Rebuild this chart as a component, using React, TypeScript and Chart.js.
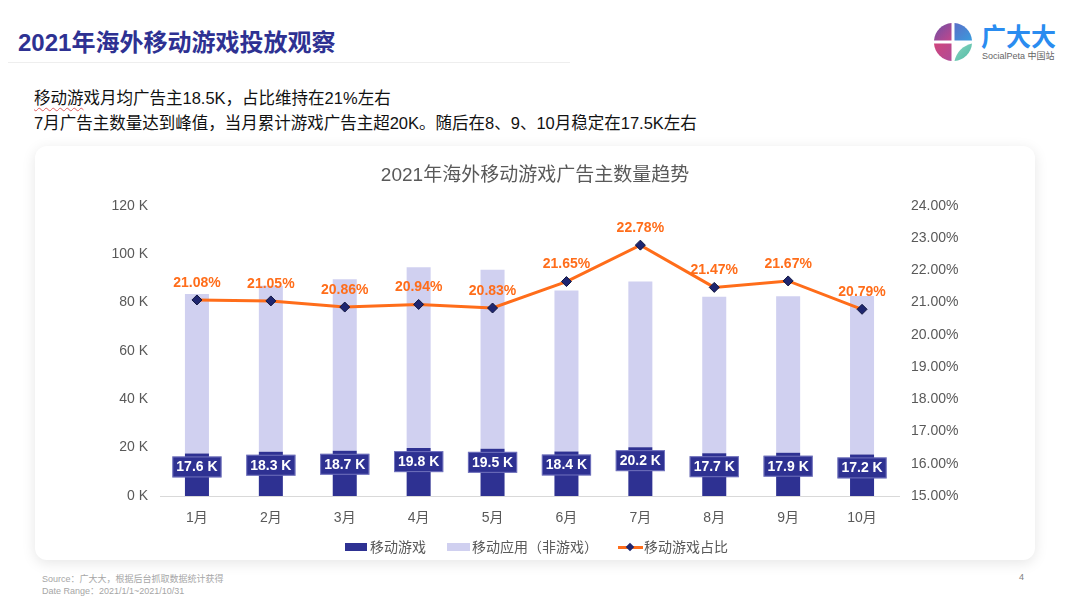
import React, { useEffect, useRef } from "react";
import { Chart, registerables } from "chart.js";

Chart.register(...registerables);

const months = ["1月", "2月", "3月", "4月", "5月", "6月", "7月", "8月", "9月", "10月"];
const gameAdvertisers = [17.6, 18.3, 18.7, 19.8, 19.5, 18.4, 20.2, 17.7, 17.9, 17.2];
const nonGameAdvertisers = [65.9, 68.6, 70.9, 74.8, 74.1, 66.6, 68.5, 64.7, 64.7, 65.5];
const gameShare = [21.08, 21.05, 20.86, 20.94, 20.83, 21.65, 22.78, 21.47, 21.67, 20.79];
const leftTicks = [0, 20, 40, 60, 80, 100, 120];
const rightTicks = [15, 16, 17, 18, 19, 20, 21, 22, 23, 24];

const FONT = "'Liberation Sans', 'Noto Sans CJK SC', Arial, sans-serif";
const DARK = "#2E3192";
const LIGHT = "#D0D0F0";
const ORANGE = "#FF6D1A";
const GRAY = "#595959";

const labelPlugin = {
  id: "customLabels",
  afterDatasetsDraw(chart: any) {
    const ctx = chart.ctx;
    ctx.save();
    const barMeta = chart.getDatasetMeta(0);
    ctx.font = `bold 14px ${FONT}`;
    ctx.textAlign = "center";
    ctx.textBaseline = "middle";
    barMeta.data.forEach((bar: any, i: number) => {
      const text = gameAdvertisers[i].toFixed(1) + " K";
      const w = ctx.measureText(text).width + 8;
      const h = 21;
      const x = bar.x - w / 2;
      const y = bar.y + 3;
      ctx.fillStyle = DARK;
      ctx.fillRect(x, y, w, h);
      ctx.strokeStyle = "rgba(170,170,225,0.55)";
      ctx.lineWidth = 1;
      ctx.strokeRect(x + 0.5, y + 0.5, w - 1, h - 1);
      ctx.fillStyle = "#FFFFFF";
      ctx.fillText(text, bar.x, y + h / 2 + 0.5);
    });
    const lineMeta = chart.getDatasetMeta(2);
    ctx.font = `bold 14px ${FONT}`;
    ctx.fillStyle = ORANGE;
    lineMeta.data.forEach((pt: any, i: number) => {
      ctx.fillText(gameShare[i].toFixed(2) + "%", pt.x, pt.y - 17);
    });
    ctx.restore();
  },
};

function ChartCanvas() {
  const ref = useRef<HTMLCanvasElement | null>(null);
  useEffect(() => {
    if (!ref.current) return;
    Chart.defaults.font.family = FONT;
    const chart = new Chart(ref.current, {
      type: "bar",
      data: {
        labels: months,
        datasets: [
          {
            label: "移动游戏",
            data: gameAdvertisers,
            backgroundColor: DARK,
            yAxisID: "y",
            order: 2,
            categoryPercentage: 1,
            barPercentage: 0.325,
          } as any,
          {
            label: "移动应用（非游戏）",
            data: nonGameAdvertisers,
            backgroundColor: LIGHT,
            yAxisID: "y",
            order: 3,
            categoryPercentage: 1,
            barPercentage: 0.325,
          },
          {
            type: "line",
            label: "移动游戏占比",
            data: gameShare,
            borderColor: ORANGE,
            borderWidth: 3,
            backgroundColor: "#1F2670",
            pointBackgroundColor: "#1F2670",
            pointBorderColor: "#111640",
            pointBorderWidth: 1,
            pointStyle: "rectRot",
            pointRadius: 5,
            yAxisID: "y1",
            order: 0,
            tension: 0,
          } as any,
        ],
      },
      options: {
        responsive: false,
        animation: false,
        layout: { padding: { left: 0, right: 0, top: 0, bottom: 24 } },
        plugins: {
          legend: { display: false },
          tooltip: { enabled: false },
          title: {
            display: true,
            text: "2021年海外移动游戏广告主数量趋势",
            color: GRAY,
            font: { size: 19, weight: "normal" as any, family: FONT },
            padding: { top: 18, bottom: 19 },
          },
        },
        scales: {
          x: {
            stacked: true,
            grid: { display: false, drawTicks: false },
            border: { display: true, color: "#D9D9D9", width: 1 },
            ticks: { color: GRAY, font: { size: 14 }, padding: 14 },
            afterFit: (s: any) => {
              s.height = 40;
            },
          },
          y: {
            stacked: true,
            position: "left",
            min: 0,
            max: 120,
            grid: { display: false, drawTicks: false },
            border: { display: false },
            afterBuildTicks: (s: any) => {
              s.ticks = leftTicks.map((v) => ({ value: v }));
            },
            ticks: {
              color: GRAY,
              font: { size: 14 },
              padding: 12,
              callback: (v: any) => v + " K",
            },
            afterFit: (s: any) => {
              s.width = 125;
            },
          },
          y1: {
            position: "right",
            min: 15,
            max: 24,
            grid: { display: false, drawTicks: false },
            border: { display: false },
            afterBuildTicks: (s: any) => {
              s.ticks = rightTicks.map((v) => ({ value: v }));
            },
            ticks: {
              color: GRAY,
              font: { size: 14 },
              padding: 12,
              callback: (v: any) => Number(v).toFixed(2) + "%",
            },
            afterFit: (s: any) => {
              s.width = 136;
            },
          },
        },
      },
      plugins: [labelPlugin],
    });
    return () => chart.destroy();
  }, []);
  return (
    <canvas
      ref={ref}
      width={1000}
      height={414}
      style={{ position: "absolute", left: 0, top: 0, width: 1000, height: 414 }}
    />
  );
}

function Logo() {
  const cx = 953;
  const cy = 42;
  const r = 19;
  const g = 1.5;
  return (
    <svg width={40} height={40} viewBox={`${cx - 20} ${cy - 20} 40 40`} style={{ position: "absolute", left: cx - 20, top: cy - 20 }}>
      <defs>
        <linearGradient id="gTL" x1="0" y1="0" x2="1" y2="1">
          <stop offset="0" stopColor="#6B4FA6" />
          <stop offset="1" stopColor="#C2478C" />
        </linearGradient>
        <linearGradient id="gTR" x1="0" y1="0" x2="1" y2="1">
          <stop offset="0" stopColor="#5A6FC8" />
          <stop offset="1" stopColor="#3A9BDD" />
        </linearGradient>
        <linearGradient id="gBL" x1="0" y1="0" x2="1" y2="1">
          <stop offset="0" stopColor="#D0457C" />
          <stop offset="1" stopColor="#B04B98" />
        </linearGradient>
        <linearGradient id="gBR" x1="0" y1="0" x2="1" y2="1">
          <stop offset="0" stopColor="#8AD6C0" />
          <stop offset="1" stopColor="#4FB9A4" />
        </linearGradient>
      </defs>
      <path d={`M ${cx - g} ${cy - g} L ${cx - g} ${cy - r} A ${r} ${r} 0 0 0 ${cx - r} ${cy - g} Z`} fill="url(#gTL)" />
      <path d={`M ${cx + g} ${cy - g} L ${cx + r} ${cy - g} A ${r} ${r} 0 0 0 ${cx + g} ${cy - r} Z`} fill="url(#gTR)" />
      <path d={`M ${cx - g} ${cy + g} L ${cx - r} ${cy + g} A ${r} ${r} 0 0 0 ${cx - g} ${cy + r} Z`} fill="url(#gBL)" />
      <path d={`M ${cx + g} ${cy + r} A ${r} ${r} 0 0 0 ${cx + r} ${cy + g} Q ${cx + 5} ${cy + 5} ${cx + g} ${cy + r} Z`} fill="url(#gBR)" />
    </svg>
  );
}

function Legend() {
  const textStyle: React.CSSProperties = {
    position: "absolute",
    top: 537,
    fontSize: 14,
    lineHeight: "20px",
    color: GRAY,
    fontFamily: FONT,
    whiteSpace: "nowrap",
  };
  return (
    <>
      <div style={{ position: "absolute", left: 345, top: 543, width: 22, height: 8, background: DARK }} />
      <div style={{ ...textStyle, left: 370 }}>移动游戏</div>
      <div style={{ position: "absolute", left: 447, top: 543, width: 23, height: 8, background: LIGHT }} />
      <div style={{ ...textStyle, left: 472 }}>移动应用（非游戏）</div>
      <div style={{ position: "absolute", left: 618, top: 546, width: 25, height: 3, background: ORANGE }} />
      <div
        style={{
          position: "absolute",
          left: 627,
          top: 544,
          width: 6,
          height: 6,
          background: "#1F2670",
          transform: "rotate(45deg)",
        }}
      />
      <div style={{ ...textStyle, left: 644 }}>移动游戏占比</div>
    </>
  );
}

export default function App() {
  return (
    <div
      style={{
        position: "absolute",
        left: 0,
        top: 0,
        width: 1080,
        height: 601,
        overflow: "hidden",
        background: "#FFFFFF",
        fontFamily: FONT,
      }}
    >
      <div
        style={{
          position: "absolute",
          left: 18,
          top: 28,
          fontSize: 24,
          lineHeight: "29px",
          fontWeight: "bold",
          color: "#2E3192",
          whiteSpace: "nowrap",
        }}
      >
        2021年海外移动游戏投放观察
      </div>
      <div style={{ position: "absolute", left: 8, top: 62, width: 562, height: 1, background: "#EEEEEE" }} />
      <div style={{ position: "absolute", left: 34, top: 86, fontSize: 16.5, lineHeight: "24px", color: "#111", whiteSpace: "nowrap" }}>
        <span style={{ textDecoration: "underline wavy #E06060", textDecorationThickness: 1, textUnderlineOffset: 3 }}>移动游</span>
        戏月均广告主18.5K，占比维持在21%左右
      </div>
      <div style={{ position: "absolute", left: 34, top: 111, fontSize: 16.5, lineHeight: "24px", color: "#111", whiteSpace: "nowrap" }}>
        7月广告主数量达到峰值，当月累计游戏广告主超20K。随后在8、9、10月稳定在17.5K左右
      </div>

      <Logo />
      <div style={{ position: "absolute", left: 981, top: 23, fontSize: 25, lineHeight: "28px", fontWeight: "bold", color: "#2A8CF0", letterSpacing: 0, whiteSpace: "nowrap" }}>
        广大大
      </div>
      <div style={{ position: "absolute", left: 982, top: 51, fontSize: 9, lineHeight: "11px", color: "#666", whiteSpace: "nowrap" }}>
        SocialPeta 中国站
      </div>

      <div
        style={{
          position: "absolute",
          left: 35,
          top: 146,
          width: 1000,
          height: 414,
          background: "#FFFFFF",
          borderRadius: 12,
          boxShadow: "0 3px 14px rgba(0,0,0,0.10)",
          overflow: "hidden",
        }}
      >
        <ChartCanvas />
      </div>
      <Legend />

      <div style={{ position: "absolute", left: 42, top: 574, fontSize: 9, lineHeight: "11px", color: "#A6A6A6", whiteSpace: "nowrap" }}>
        Source：广大大，根据后台抓取数据统计获得
      </div>
      <div style={{ position: "absolute", left: 42, top: 586, fontSize: 9, lineHeight: "11px", color: "#A6A6A6", whiteSpace: "nowrap" }}>
        Date Range：2021/1/1~2021/10/31
      </div>
      <div style={{ position: "absolute", left: 1019, top: 572, fontSize: 9, lineHeight: "11px", color: "#808080" }}>4</div>
    </div>
  );
}
